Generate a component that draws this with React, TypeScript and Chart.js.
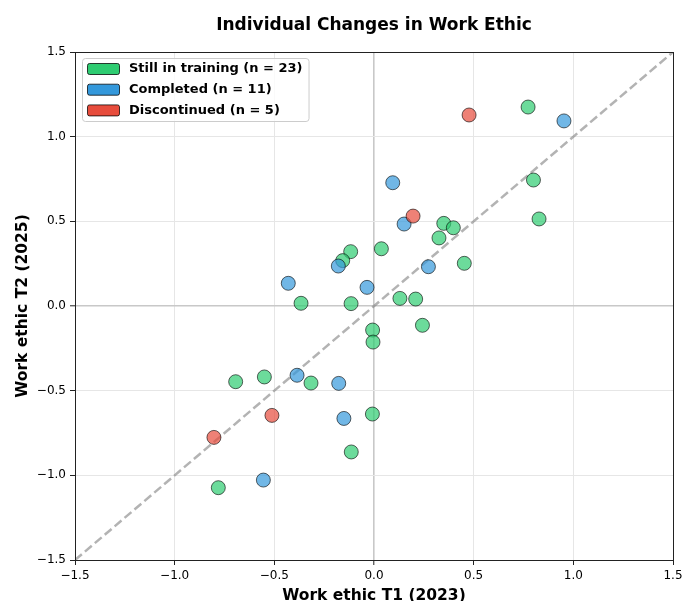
import { useEffect, useRef } from 'react';
import { Chart, registerables } from 'chart.js';

Chart.register(...registerables);

const TITLE = 'Individual Changes in Work Ethic';
const X_LABEL = 'Work ethic T1 (2023)';
const Y_LABEL = 'Work ethic T2 (2025)';
const AXIS_TICKS = [-1.5, -1.0, -0.5, 0, 0.5, 1.0, 1.5];
const AXIS_MIN = -1.5;
const AXIS_MAX = 1.5;

const GROUP_LABELS = ['Still in training (n = 23)', 'Completed (n = 11)', 'Discontinued (n = 5)'];

const TRAINING_T1 = [0.773, 0.8, 0.828, 0.35, 0.398, 0.326, -0.117, -0.157, 0.037, 0.453, -0.366, -0.115, 0.13, 0.209, 0.243, -0.007, -0.005, -0.694, -0.55, -0.316, -0.008, -0.114, -0.781];
const TRAINING_T2 = [1.175, 0.744, 0.514, 0.488, 0.462, 0.402, 0.321, 0.268, 0.338, 0.252, 0.016, 0.014, 0.045, 0.041, -0.114, -0.142, -0.213, -0.447, -0.419, -0.455, -0.638, -0.862, -1.073];

const COMPLETED_T1 = [0.953, 0.094, 0.151, -0.179, 0.273, -0.43, -0.035, -0.386, -0.177, -0.151, -0.555];
const COMPLETED_T2 = [1.093, 0.728, 0.484, 0.236, 0.232, 0.134, 0.11, -0.409, -0.457, -0.664, -1.028];

const DISCONTINUED_T1 = [0.477, 0.196, -0.512, -0.803];
const DISCONTINUED_T2 = [1.128, 0.531, -0.646, -0.776];

const IDENTITY = [AXIS_MIN, AXIS_MAX];

const toPoints = (xs: number[], ys: number[]) => xs.map((x, i) => ({ x, y: ys[i] }));
const fmt = (v: number) => Number(v).toFixed(1).replace('-', '\u2212');

const FONT = 'DejaVu Sans';

const framePlugin = {
  id: 'frameAndLegend',
  afterLayout(chart: any) {
    const tb = chart.titleBlock;
    const a = chart.chartArea;
    if (tb && a) {
      tb.left = a.left;
      tb.right = a.right;
      tb.width = a.right - a.left;
    }
  },
  afterDatasetsDraw(chart: any) {
    const { ctx, chartArea: a } = chart;
    ctx.save();
    ctx.strokeStyle = '#222';
    ctx.lineWidth = 1;
    ctx.strokeRect(Math.round(a.left) + 0.5, Math.round(a.top) + 0.5, Math.round(a.right - a.left), Math.round(a.bottom - a.top));

    const items = chart.data.datasets.filter((d: any) => d.legendColor);
    ctx.font = `bold 13px "${FONT}"`;
    let maxW = 0;
    items.forEach((d: any) => {
      maxW = Math.max(maxW, ctx.measureText(d.label).width);
    });
    const bx = a.left + 7;
    const by = a.top + 6;
    const rowH = 20.7;
    const bw = 47 + maxW + 6;
    const bh = 63;
    ctx.beginPath();
    ctx.roundRect(bx + 0.5, by + 0.5, bw, bh, 3);
    ctx.fillStyle = 'rgba(255,255,255,0.8)';
    ctx.fill();
    ctx.strokeStyle = '#cccccc';
    ctx.lineWidth = 1;
    ctx.stroke();
    items.forEach((d: any, i: number) => {
      const cy = by + 10.5 + i * rowH;
      ctx.beginPath();
      ctx.roundRect(bx + 5.5, cy - 5, 32, 11, 2);
      ctx.fillStyle = d.legendColor;
      ctx.fill();
      ctx.strokeStyle = 'rgba(0,0,0,0.75)';
      ctx.lineWidth = 1;
      ctx.stroke();
      ctx.fillStyle = '#000';
      ctx.textAlign = 'left';
      ctx.textBaseline = 'middle';
      ctx.fillText(d.label, bx + 47, cy + 0.5);
    });
    ctx.restore();
  },
};

export default function App() {
  const ref = useRef<HTMLCanvasElement | null>(null);

  useEffect(() => {
    if (!ref.current) return;
    Chart.defaults.font.family = FONT;
    Chart.defaults.color = '#000';

    const gridColor = (c: any) => (c.tick && c.tick.value === 0 ? '#c8c8c8' : '#e6e6e6');
    const gridWidth = (c: any) => (c.tick && c.tick.value === 0 ? 1.6 : 1);

    const chart = new Chart(ref.current, {
      type: 'scatter',
      data: {
        datasets: [
          {
            label: GROUP_LABELS[0],
            legendColor: '#2ecc71',
            data: toPoints(TRAINING_T1, TRAINING_T2),
            backgroundColor: 'rgba(46,204,113,0.7)',
            borderColor: 'rgba(0,0,0,0.6)',
            borderWidth: 1,
            pointRadius: 7,
            order: 3,
          },
          {
            label: GROUP_LABELS[1],
            legendColor: '#3498db',
            data: toPoints(COMPLETED_T1, COMPLETED_T2),
            backgroundColor: 'rgba(52,152,219,0.7)',
            borderColor: 'rgba(0,0,0,0.6)',
            borderWidth: 1,
            pointRadius: 7,
            order: 2,
          },
          {
            label: GROUP_LABELS[2],
            legendColor: '#e74c3c',
            data: toPoints(DISCONTINUED_T1, DISCONTINUED_T2),
            backgroundColor: 'rgba(231,76,60,0.7)',
            borderColor: 'rgba(0,0,0,0.6)',
            borderWidth: 1,
            pointRadius: 7,
            order: 1,
          },
          {
            label: 'identity',
            data: toPoints(IDENTITY, IDENTITY),
            showLine: true,
            borderColor: 'rgba(128,128,128,0.6)',
            borderWidth: 2.5,
            borderDash: [9, 4],
            pointRadius: 0,
            order: 10,
          },
        ] as any,
      },
      plugins: [framePlugin],
      options: {
        animation: false,
        responsive: false,
        maintainAspectRatio: false,
        layout: { padding: 0 },
        plugins: {
          legend: { display: false },
          tooltip: { enabled: false },
          title: {
            display: true,
            text: TITLE,
            color: '#000',
            font: { family: FONT, size: 17, weight: 'bold' },
            padding: { top: 15, bottom: 16.6 },
          },
        },
        scales: {
          x: {
            type: 'linear',
            min: AXIS_MIN,
            max: AXIS_MAX,
            afterBuildTicks: (s: any) => {
              s.ticks = AXIS_TICKS.map((v) => ({ value: v }));
            },
            afterFit: (s: any) => {
              s.height = 41;
              s.paddingRight = 9;
              s.paddingLeft = 0;
            },
            ticks: {
              callback: (v: any) => fmt(v),
              font: { family: FONT, size: 12 },
              color: '#000',
              padding: 4,
              maxRotation: 0,
              autoSkip: false,
            },
            grid: {
              color: gridColor,
              lineWidth: gridWidth,
              tickColor: '#222',
              tickLength: 5,
              tickWidth: 1,
            },
            border: { display: false },
            title: {
              display: true,
              text: X_LABEL,
              color: '#000',
              font: { family: FONT, size: 15.5, weight: 'bold', lineHeight: 1 },
              padding: { top: 0, bottom: -2.5 },
            },
          },
          y: {
            type: 'linear',
            min: AXIS_MIN,
            max: AXIS_MAX,
            afterBuildTicks: (s: any) => {
              s.ticks = AXIS_TICKS.map((v) => ({ value: v }));
            },
            afterFit: (s: any) => {
              s.width = 75;
            },
            ticks: {
              callback: (v: any) => fmt(v),
              font: { family: FONT, size: 12 },
              color: '#000',
              padding: 4,
              autoSkip: false,
            },
            grid: {
              color: gridColor,
              lineWidth: gridWidth,
              tickColor: '#222',
              tickLength: 5,
              tickWidth: 1,
            },
            border: { display: false },
            title: {
              display: true,
              text: Y_LABEL,
              color: '#000',
              font: { family: FONT, size: 15.5, weight: 'bold' },
              padding: { top: 13.5, bottom: 0 },
            },
          },
        },
      } as any,
    });
    return () => chart.destroy();
  }, []);

  return (
    <div style={{ position: 'fixed', left: 0, top: 0, width: 682, height: 601, background: '#fff' }}>
      <canvas ref={ref} width={682} height={601} style={{ display: 'block' }} />
    </div>
  );
}
